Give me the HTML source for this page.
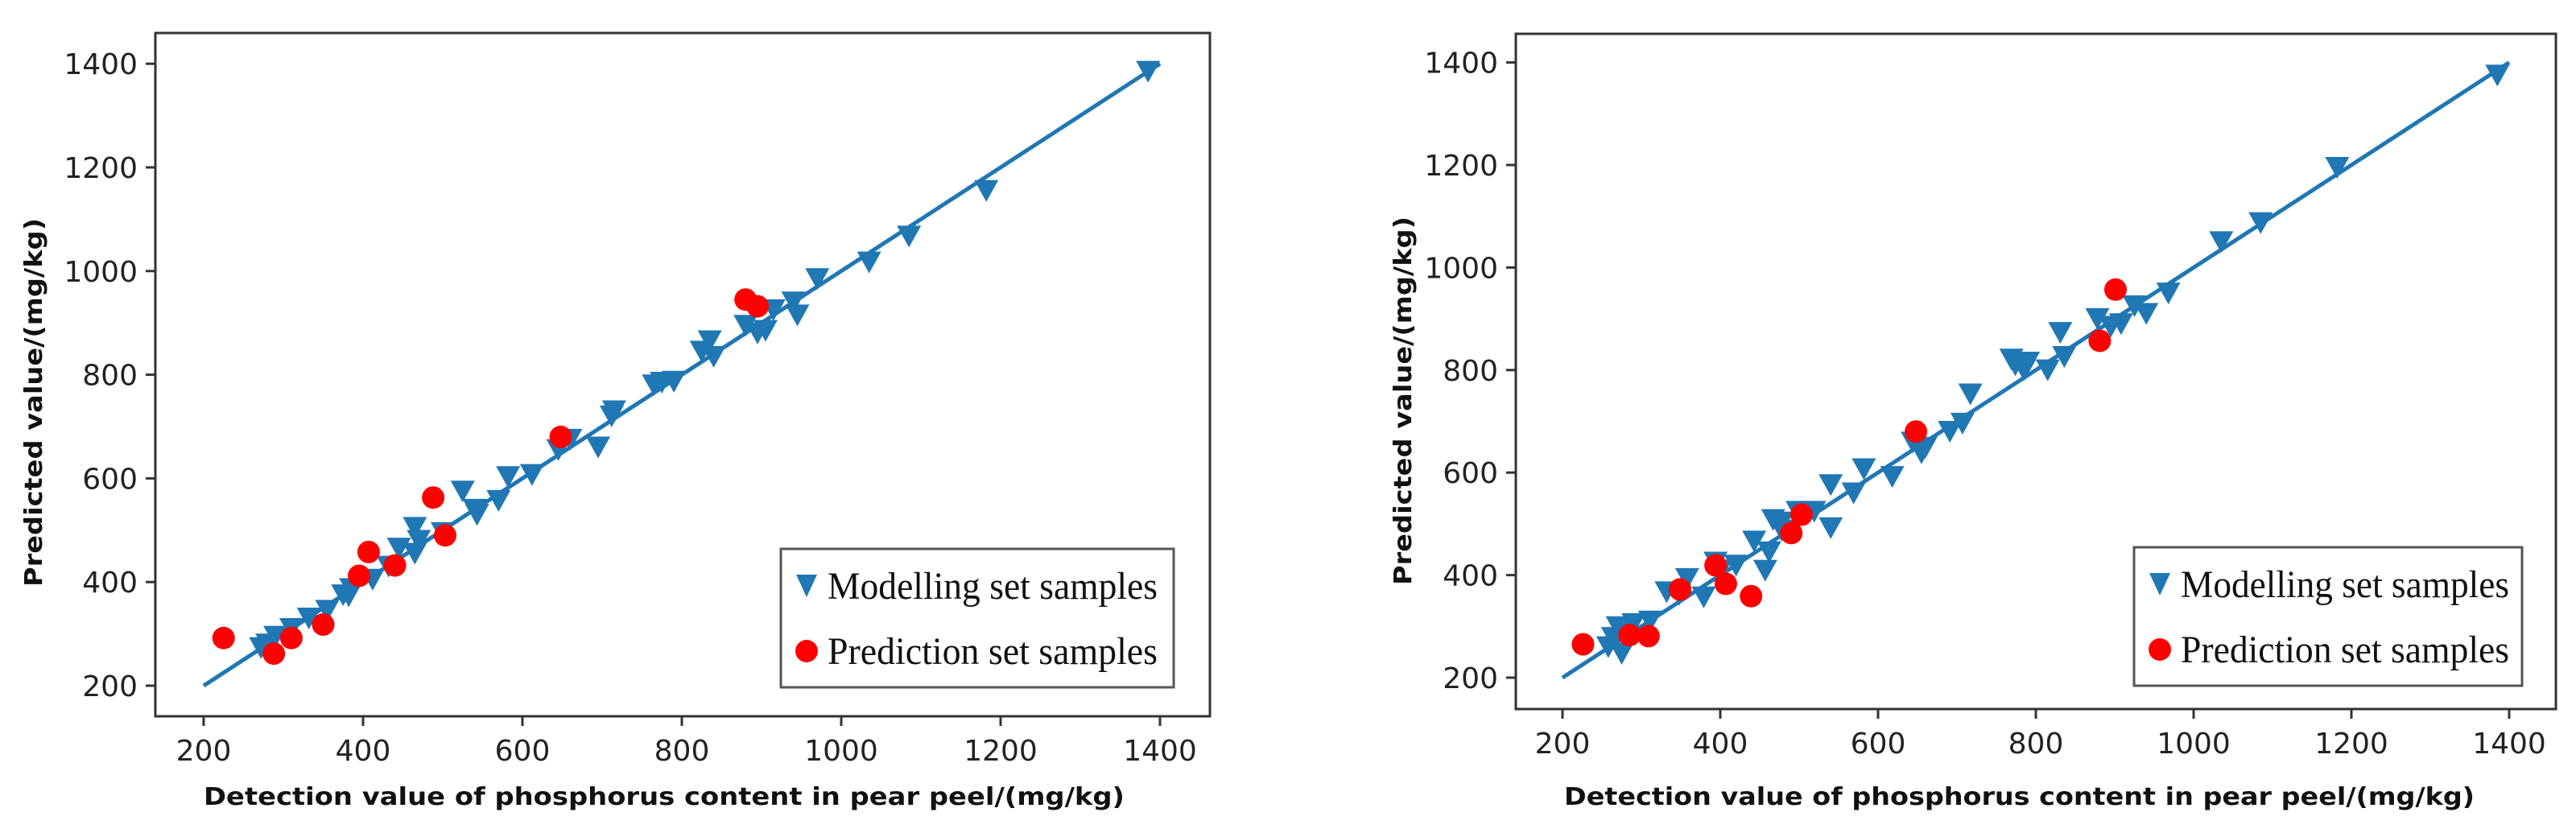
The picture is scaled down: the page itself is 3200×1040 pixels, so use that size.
<!DOCTYPE html>
<html><head><meta charset="utf-8"><style>
html,body{margin:0;padding:0;background:#fff;}
svg{display:block;}
</style></head><body>
<svg id="fig" width="3200" height="1040" xmlns="http://www.w3.org/2000/svg"></svg>
<script>
// ---- data ----
const tickValues = [200, 400, 600, 800, 1000, 1200, 1400];
const tickLabels = ["200", "400", "600", "800", "1000", "1200", "1400"];
const fitLine = [200, 1400];
const leftModelX = [1385,1182,1085,1035,970,945,940,915,905,895,880,835,825,840,775,790,765,715,712,695,660,650,645,612,582,570,540,543,525,500,470,465,465,445,412,385,375,355,332,310,290,280,272,382,432];
const leftModelY = [1390,1160,1072,1022,990,920,945,930,890,885,900,870,850,840,790,792,785,735,725,665,680,675,660,612,608,562,545,535,580,500,485,510,460,470,410,392,380,350,335,315,300,285,278,378,435];
const leftPredX = [225,288,310,350,395,407,440,488,503,648,880,895];
const leftPredY = [292,262,292,318,412,458,432,563,490,680,945,932];
const rightModelX = [1385,1182,1085,1035,968,940,925,908,895,878,831,836,815,785,769,774,790,717,707,691,660,644,655,618,582,569,540,540,519,498,478,467,478,462,443,457,420,400,394,379,358,348,332,311,290,282,275,264,270,258];
const rightModelY = [1380,1200,1092,1055,955,915,930,895,890,905,878,831,805,805,826,815,820,758,701,685,654,664,643,597,612,565,581,497,529,529,508,513,492,450,471,414,424,414,430,362,398,367,372,315,310,294,252,283,304,265];
const rightPredX = [226,285,309,349,407,394,439,490,503,648,881,901];
const rightPredY = [265,283,281,372,383,419,359,482,518,680,857,957];

const NS = "http://www.w3.org/2000/svg";
const svg = document.getElementById("fig");
const BLUE = "#1f77b4", RED = "#ff0000", AX = "#333";

function mk(tag, attrs, parent) {
  const e = document.createElementNS(NS, tag);
  for (const k in attrs) e.setAttribute(k, attrs[k]);
  (parent || svg).appendChild(e);
  return e;
}

function drawChart(c, modelX, modelY, predX, predY, prefix) {
  const g = mk("g", {});
  
  
  const sx = v => c.x200 + (v - 200) * c.kx;
  const sy = v => c.y200 - (v - 200) * c.ky;
  const fr = mk("rect", {x: c.left, y: c.top, width: c.right - c.left, height: c.bottom - c.top, fill: "none", stroke: AX, "stroke-width": 3}, g);
  
  
  for (let i = 0; i < tickValues.length; i++) {
    const v = tickValues[i];
    const tx = mk("line", {x1: sx(v), x2: sx(v), y1: c.bottom, y2: c.bottom + 12, stroke: AX, "stroke-width": 3}, g);
    
    
    const lx = mk("text", {x: sx(v), y: c.bottom + 55, "text-anchor": "middle", "font-family": "DejaVu Sans, Liberation Sans, sans-serif", "font-size": 36, fill: "#222"}, g);
    lx.textContent = tickLabels[i];
    
    
    const ty = mk("line", {x1: c.left - 12, x2: c.left, y1: sy(v), y2: sy(v), stroke: AX, "stroke-width": 3}, g);
    
    
    const ly = mk("text", {x: c.left - 22, y: sy(v) + 13, "text-anchor": "end", "font-family": "DejaVu Sans, Liberation Sans, sans-serif", "font-size": 36, fill: "#222"}, g);
    ly.textContent = tickLabels[i];
    
    
  }
  const xt = mk("text", {x: c.xlabX, y: c.xlabY, "font-family": "DejaVu Sans, Liberation Sans, sans-serif", "font-weight": "bold", "font-size": 30, fill: "#111", textLength: c.xlabW, lengthAdjust: "spacingAndGlyphs"}, g);
  xt.textContent = "Detection value of phosphorus content in pear peel/(mg/kg)";
  
  
  const yt = mk("text", {x: 0, y: 0, "text-anchor": "middle", "font-family": "DejaVu Sans, Liberation Sans, sans-serif", "font-weight": "bold", "font-size": 30, fill: "#111", textLength: 458, lengthAdjust: "spacingAndGlyphs", transform: `translate(${c.ylabX},${c.ylabY}) rotate(-90)`}, g);
  yt.textContent = "Predicted value/(mg/kg)";
  
  
  const ln = mk("line", {x1: sx(fitLine[0]), y1: sy(fitLine[0]), x2: sx(fitLine[1]), y2: sy(fitLine[1]), stroke: BLUE, "stroke-width": 5}, g);
  
  
  for (let i = 0; i < modelX.length; i++) {
    const x = sx(modelX[i]), y = sy(modelY[i]);
    const t = mk("polygon", {points: `${x-15},${y-10} ${x+15},${y-10} ${x},${y+17}`, fill: BLUE}, g);
    
    
  }
  for (let i = 0; i < predX.length; i++) {
    const p = mk("circle", {cx: sx(predX[i]), cy: sy(predY[i]), r: 14, fill: RED}, g);
    
    
  }
  const L = c.leg;
  const lg = mk("g", {}, g);
  
  
  mk("rect", {x: L.x, y: L.y, width: L.w, height: L.h, fill: "#fff", stroke: "#555", "stroke-width": 3}, lg);
  const mx = L.x + 32, tx0 = L.x + 58, y1 = L.y + 46, y2 = L.y + 127;
  const lt = mk("polygon", {points: `${mx-13},${y1-14} ${mx+13},${y1-14} ${mx},${y1+14}`, fill: BLUE}, lg);
  
  
  const t1 = mk("text", {x: tx0, y: y1 + 16, "font-family": "Liberation Serif, serif", "font-size": 48, fill: "#111", textLength: L.tw, lengthAdjust: "spacingAndGlyphs"}, lg);
  t1.textContent = "Modelling set samples";
  
  
  const lc = mk("circle", {cx: mx, cy: y2, r: 14, fill: RED}, lg);
  
  
  const t2 = mk("text", {x: tx0, y: y2 + 16, "font-family": "Liberation Serif, serif", "font-size": 48, fill: "#111", textLength: L.tw, lengthAdjust: "spacingAndGlyphs"}, lg);
  t2.textContent = "Prediction set samples";
  
  
}

drawChart({left: 193, right: 1503, top: 41, bottom: 890, x200: 253, kx: 0.99, y200: 852, ky: 0.644,
  xlabX: 253, xlabY: 1000, xlabW: 1144, ylabX: 52, ylabY: 500,
  leg: {x: 970, y: 682, w: 488, h: 172, tw: 410}}, leftModelX, leftModelY, leftPredX, leftPredY, "left");
drawChart({left: 1883, right: 3175, top: 42, bottom: 881, x200: 1941, kx: 0.98, y200: 842, ky: 0.637,
  xlabX: 1943, xlabY: 1000, xlabW: 1131, ylabX: 1753, ylabY: 498,
  leg: {x: 2651, y: 680, w: 482, h: 172, tw: 408}}, rightModelX, rightModelY, rightPredX, rightPredY, "right");
</script>
</body></html>
